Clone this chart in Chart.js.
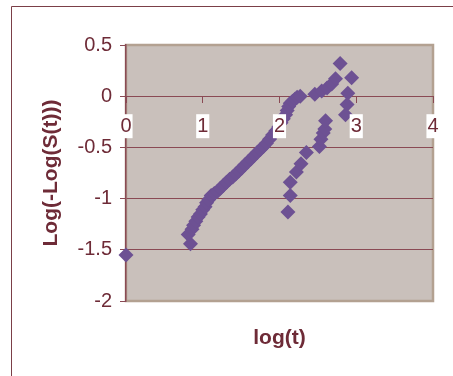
<!DOCTYPE html>
<html>
<head>
<meta charset="utf-8">
<script src="https://cdn.jsdelivr.net/npm/chart.js@4"></script>
<style>
  html, body { margin: 0; padding: 0; background: #ffffff; }
  #wrap { position: absolute; left: 0; top: 0; width: 453px; height: 376px; }
</style>
</head>
<body>
<div id="wrap"><canvas id="c" width="453" height="376"></canvas></div>
<script>
// ---- data ----
const logT = [
  0.00,
  0.84, 0.81, 0.86, 0.88, 0.91, 0.94, 0.97, 1.00, 1.03, 1.05, 1.08, 1.11, 1.15, 1.19,
  1.23, 1.27, 1.31, 1.35, 1.39, 1.43, 1.47, 1.51, 1.55, 1.59, 1.63, 1.67, 1.71, 1.75,
  1.79, 1.83, 1.87, 1.91, 1.95, 1.99, 2.02, 2.05, 2.08, 2.10, 2.12, 2.14, 2.17, 2.20,
  2.23, 2.27,
  2.46, 2.55, 2.62, 2.68, 2.73, 2.79, 2.94, 2.89, 2.88, 2.86,
  2.11, 2.14, 2.14, 2.22, 2.28, 2.35, 2.52, 2.54, 2.57, 2.59, 2.60
];
const logLogS = [
  -1.55,
  -1.44, -1.35, -1.30, -1.26, -1.22, -1.18, -1.15, -1.11, -1.08, -1.04, -1.01, -0.97, -0.95, -0.93,
  -0.90, -0.87, -0.84, -0.81, -0.79, -0.76, -0.73, -0.70, -0.67, -0.64, -0.61, -0.58, -0.55, -0.52,
  -0.49, -0.46, -0.42, -0.38, -0.34, -0.30, -0.26, -0.22, -0.18, -0.14, -0.10, -0.07, -0.05, -0.03,
  -0.01, 0.00,
  0.02, 0.05, 0.08, 0.12, 0.17, 0.32, 0.18, 0.03, -0.08, -0.18,
  -1.13, -0.97, -0.84, -0.74, -0.66, -0.55, -0.49, -0.42, -0.36, -0.32, -0.24
];
const xTickValues = [0, 1, 2, 3, 4];
const yTickValues = [0.5, 0, -0.5, -1, -1.5, -2];
const xTitle = 'log(t)';
const yTitle = 'Log(-Log(S(t)))';

const MAROON = '#6E2B37';
const GRID = '#8A4A54';
const FONT = 'Liberation Sans, Arial, sans-serif';

const points = logT.map((x, i) => ({ x: x, y: logLogS[i] }));

const framePlugin = {
  id: 'frame',
  beforeDraw(chart) {
    const { ctx, chartArea: a } = chart;
    ctx.save();
    // outer chart border (left and top)
    ctx.strokeStyle = '#7B3F48';
    ctx.lineWidth = 1;
    ctx.beginPath();
    ctx.moveTo(11.5, 376);
    ctx.lineTo(11.5, 6.5);
    ctx.lineTo(453, 6.5);
    ctx.stroke();
    // plot area background
    ctx.fillStyle = '#C9C0BB';
    ctx.fillRect(a.left, a.top, a.right - a.left, a.bottom - a.top);
    // beige plot border
    ctx.strokeStyle = '#B3A191';
    ctx.lineWidth = 2.5;
    ctx.strokeRect(a.left, a.top, a.right - a.left, a.bottom - a.top);
    ctx.restore();
  }
};

new Chart(document.getElementById('c'), {
  type: 'scatter',
  data: {
    datasets: [{
      data: points,
      clip: false,
      pointStyle: 'rectRot',
      pointRadius: 7.5,
      pointHoverRadius: 7.5,
      pointBackgroundColor: '#6D5193',
      pointBorderColor: '#6D5193',
      pointBorderWidth: 0
    }]
  },
  options: {
    responsive: false,
    animation: false,
    devicePixelRatio: 1,
    layout: { padding: { left: 0, top: 45, right: 20, bottom: 0 } },
    plugins: { legend: { display: false }, tooltip: { enabled: false } },
    scales: {
      x: {
        type: 'linear',
        position: { y: 0 },
        min: 0, max: 4,
        afterBuildTicks(scale) { scale.ticks = xTickValues.map(v => ({ value: v })); },
        grid: { drawOnChartArea: false, drawTicks: true, tickLength: 6, tickColor: GRID, tickWidth: 1 },
        border: { display: true, color: GRID, width: 1 },
        ticks: {
          z: 1,
          color: MAROON,
          font: { family: FONT, size: 20 },
          padding: 12,
          maxRotation: 0,
          showLabelBackdrop: true,
          backdropColor: '#ffffff',
          backdropPadding: { top: 0, bottom: 0, left: 1, right: 1 },
          callback: v => String(v)
        }
      },
      x2: {
        type: 'linear',
        position: 'bottom',
        min: 0, max: 4,
        grid: { display: false, drawTicks: false },
        border: { display: false },
        ticks: { display: false },
        afterFit(scale) { scale.height = 75; },
        title: {
          display: true,
          text: xTitle,
          color: MAROON,
          font: { family: FONT, size: 21, weight: 'bold' },
          padding: { top: 0, bottom: 25 }
        }
      },
      y: {
        type: 'linear',
        position: 'left',
        min: -2, max: 0.5,
        afterBuildTicks(scale) { scale.ticks = yTickValues.map(v => ({ value: v })); },
        afterFit(scale) { scale.width = 126; },
        grid: {
          color: c => (c.tick && (c.tick.value === 0.5 || c.tick.value === -2)) ? 'rgba(0,0,0,0)' : GRID,
          lineWidth: 1,
          drawTicks: true,
          tickLength: 6,
          tickColor: GRID,
          tickWidth: 1
        },
        border: { display: true, color: GRID, width: 1.5 },
        ticks: {
          color: MAROON,
          font: { family: FONT, size: 20 },
          padding: 8,
          callback: v => String(v)
        },
        title: {
          display: true,
          text: yTitle,
          color: MAROON,
          font: { family: FONT, size: 21, weight: 'bold' },
          padding: { top: 39, bottom: 0 }
        }
      }
    }
  },
  plugins: [framePlugin]
});
</script>
</body>
</html>
